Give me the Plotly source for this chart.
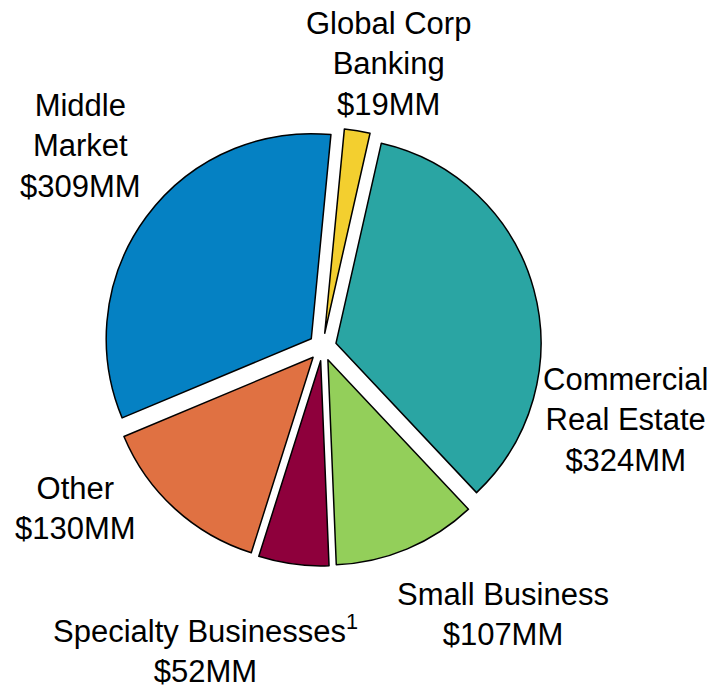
import plotly.graph_objects as go

# Loan balances by business line, clockwise from the top
segments = ["Global Corp<br>Banking", "Commercial<br>Real Estate", "Small Business",
            "Specialty Businesses<sup>1</sup>", "Other", "Middle<br>Market"]
values = [19, 324, 107, 52, 130, 309]
colors = ["#F3CF2F", "#2AA5A3", "#93CF5A", "#8E003C", "#E07142", "#0581C3"]

# Caption centres in pixels from the top-left corner
label_x = [388, 625, 503, 205, 75, 80]
label_y = [64, 420, 614, 649, 508, 146]

W, H = 713, 688

fig = go.Figure()
fig.add_trace(go.Pie(
    labels=[s.replace("<br>", " ") for s in segments],
    values=values,
    sort=False,
    direction="clockwise",
    rotation=5.5,
    pull=[0.068] * len(values),
    marker=dict(colors=colors, line=dict(color="black", width=1.5)),
    textinfo="none",
    hoverinfo="label+value",
    showlegend=False,
    domain=dict(x=[103.5 / W, 541.5 / W], y=[1 - 566 / H, 1 - 128 / H]),
))

for name, val, lx, ly in zip(segments, values, label_x, label_y):
    fig.add_annotation(
        x=lx / W, y=1 - ly / H, xref="paper", yref="paper",
        text=f"{name}<br>${val}MM",
        showarrow=False, xanchor="center", yanchor="middle",
        align="center",
        font=dict(family="Arial, Liberation Sans, sans-serif", size=31, color="black"),
    )

fig.update_layout(
    width=W, height=H,
    margin=dict(l=0, r=0, t=0, b=0),
    paper_bgcolor="white", plot_bgcolor="white",
)

fig.write_html("out.html")
